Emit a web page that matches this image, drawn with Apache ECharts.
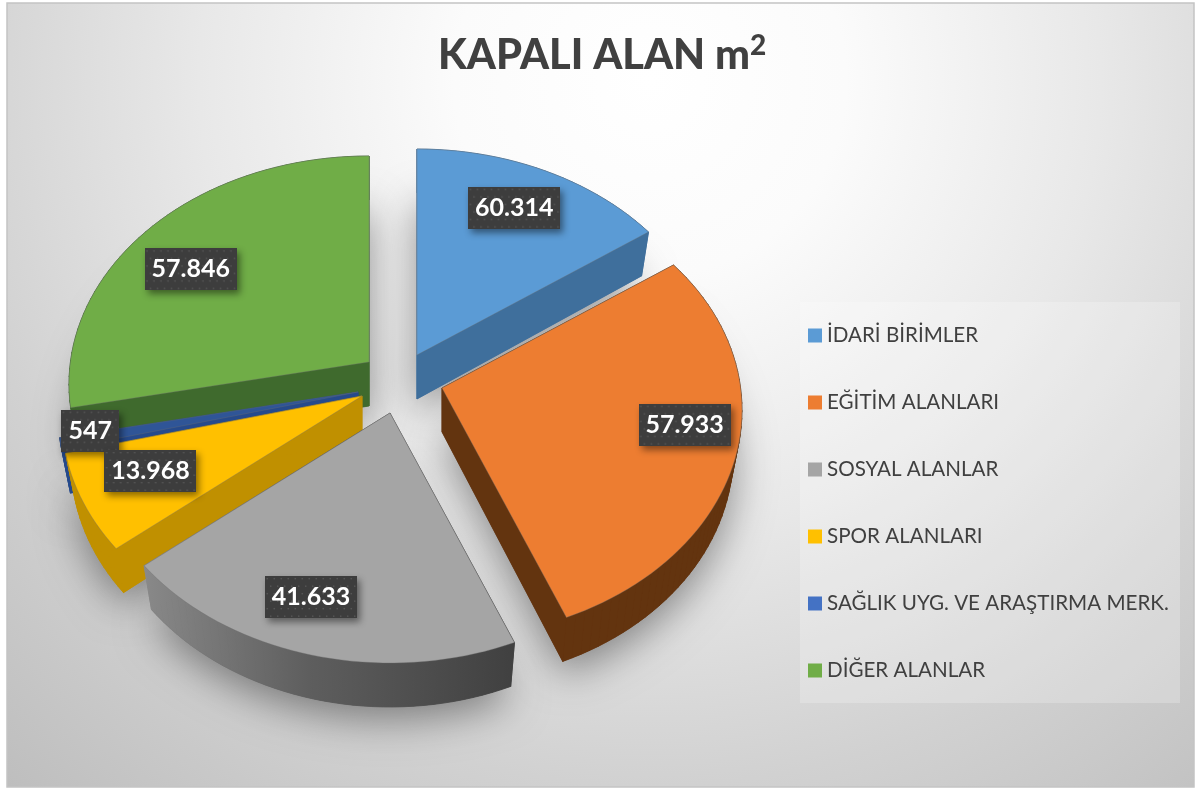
<!DOCTYPE html>
<html><head><meta charset="utf-8">
<script src="https://cdn.jsdelivr.net/npm/echarts@6/dist/echarts.min.js"></script>
<style>html,body{margin:0;padding:0;background:#fff}#c{width:1204px;height:789px}</style>
</head><body><div id="c"></div>
<script>
// ---- data ----
const categories = ['İDARİ BİRİMLER','EĞİTİM ALANLARI','SOSYAL ALANLAR','SPOR ALANLARI','SAĞLIK UYG. VE ARAŞTIRMA MERK.','DİĞER ALANLAR'];
const values = [60314,57933,41633,13968,547,57846];
const valueLabels = ['60.314','57.933','41.633','13.968','547','57.846'];
const titleMain = 'KAPALI ALAN m';
const titleSup = '2';

// ---- styling ----
const topColors  = ['#5b9bd5','#ed7d31','#a5a5a5','#ffc000','#2f5597','#70ad47'];
const legendColors = ['#5b9bd5','#ed7d31','#a5a5a5','#ffc000','#4472c4','#70ad47'];
const sideColors = ['#3f6f9c','#63340f','#555555','#c09000','#264a8c','#3f6a2d'];
const drawOrder = [5,0,4,3,2,1];

// ---- projection of the tilted pie (Excel 3-D view) ----
const rx = 300, ryBack = 206, ryFront = 250;
const cy0 = (ryFront - ryBack) / 2, ry = (ryFront + ryBack) / 2;
// pie angle -> angle on the drawn ellipse, the way the view foreshortens it
const viewKnots = [[0,0],[93.5,50.5],[183.3,155.5],[247.8,235],[269.45,261],[270.3,264],[360,360]];
// slice apex, as exploded
const apex = [[417,355],[442,388],[390,413],[362,396],[358,392],[369,362]];
const labelFrac = [[0.76,0.8],[0.83,0.5],[1,0.76],[0.76,0.7],[0.9,0.75],[0.8,0.71]];
const depth = 44, depthScale = 0.97;

const total = values.reduce((a,b)=>a+b,0);
function warp(t){
  for(let i=1;i<viewKnots.length;i++){
    const a=viewKnots[i-1],b=viewKnots[i];
    if(t<=b[0]) return a[1]+(t-a[0])/(b[0]-a[0])*(b[1]-a[1]);
  }
  return t;
}
function spoke(alpha){
  const r=alpha*Math.PI/180;
  return [rx*Math.sin(r), cy0-ry*Math.cos(r)];
}
const starts=[];let acc=0;
values.forEach(v=>{starts.push(acc);acc+=v/total*360;});

function patternCanvas(w,h){
  const c=document.createElement('canvas');c.width=w;c.height=h;
  const g=c.getContext('2d');
  g.fillStyle='#3d3d3d';g.fillRect(0,0,w,h);
  g.fillStyle='#5a5a5a';
  for(let y=2;y<h;y+=7.5)for(let x=(Math.round((y-2)/7.5)%2?5:1.5);x<w;x+=7){g.fillRect(x,y,1.4,1.4);}
  return c;
}

function renderSlice(i){
  return function(params,api){
    const a0=warp(starts[i]), a1=warp(starts[i]+values[i]/total*360);
    const o=apex[i];
    const pts=[[0,0]];
    const n=Math.max(2,Math.ceil((a1-a0)/2));
    for(let k=0;k<=n;k++) pts.push(spoke(a0+(a1-a0)*k/n));
    const top=pts.map(p=>[o[0]+p[0],o[1]+p[1]]);
    const bot=pts.map(p=>[o[0]+p[0]*depthScale,o[1]+p[1]+depth]);
    const children=[];
    const side=sideColors[i];
    let sideFill=side;
    if(i===2){
      sideFill={type:'linear',global:true,x:140,y:0,x2:515,y2:0,colorStops:[{offset:0,color:'#8a8a8a'},{offset:0.45,color:'#5e5e5e'},{offset:1,color:'#404040'}]};
    }
    // shadow cast on the floor
    children.push({type:'polygon',shape:{points:bot},z2:1,silent:true,
      style:{fill:side,shadowBlur:40,shadowColor:'rgba(0,0,0,0.42)',shadowOffsetX:0,shadowOffsetY:12}});
    for(let k=0;k<top.length;k++){
      const j=(k+1)%top.length;
      children.push({type:'polygon',shape:{points:[top[k],top[j],bot[j],bot[k]]},z2:2,silent:true,
        style:{fill:sideFill,stroke:sideFill,lineWidth:0.8}});
    }
    children.push({type:'polygon',shape:{points:top},z2:3,
      style:{fill:topColors[i],stroke:'rgba(110,110,110,0.5)',lineWidth:0.7}});
    return {type:'group',children};
  };
}
function renderLabel(i){
  const tile=patternCanvas(i===4?58:92,42);
  return function(params,api){
    const a0=warp(starts[i]), a1=warp(starts[i]+values[i]/total*360);
    const s=spoke((a0+a1)/2);
    const x=apex[i][0]+s[0]*labelFrac[i][0], y=apex[i][1]+s[1]*labelFrac[i][1];
    return {type:'text',x:x,y:y,z2:10,silent:true,
      style:{text:valueLabels[i],fill:'#fff',font:'bold 25px Lato, sans-serif',align:'center',verticalAlign:'middle',
        width:i===4?44:78,height:26,padding:[8,7,8,7],
        backgroundColor:{image:tile},
        shadowColor:'rgba(0,0,0,0.45)',shadowBlur:7,shadowOffsetX:3,shadowOffsetY:4}};
  };
}

const series=drawOrder.map(i=>({
  name:categories[i],type:'custom',coordinateSystem:'none',
  data:[values[i]],itemStyle:{color:legendColors[i]},z:2,
  renderItem:renderSlice(i)
}));
drawOrder.forEach(i=>series.push({
  type:'custom',coordinateSystem:'none',data:[values[i]],z:5,silent:true,renderItem:renderLabel(i)
}));

const chart=echarts.init(document.getElementById('c'),null,{renderer:'canvas'});
chart.setOption({
  animation:false,
  tooltip:{show:false},
  graphic:[
    {type:'rect',z:-10,shape:{x:7,y:3,width:1187,height:784},
     style:{stroke:'#c4c4c4',lineWidth:1.5,
      fill:{type:'radial',global:true,x:650,y:80,r:980,colorStops:[{offset:0,color:'#ffffff'},{offset:0.2,color:'#fbfbfb'},{offset:0.46,color:'#e8e8e8'},{offset:0.72,color:'#d1d1d1'},{offset:1,color:'#bcbcbc'}]}}},
    {type:'rect',z:-5,shape:{x:800,y:302,width:380,height:401},style:{fill:'rgba(255,255,255,0.22)'}}
  ],
  title:{text:'{a|'+titleMain+'}{b|'+titleSup+'}',left:433,top:27,
    textStyle:{rich:{
      a:{fontFamily:'Lato',fontWeight:900,fontSize:41.5,color:'#404040'},
      b:{fontFamily:'Lato',fontWeight:900,fontSize:28,color:'#404040',padding:[0,0,20,0]}
    }}},
  legend:{orient:'vertical',left:808,top:325,padding:0,
    itemGap:46,itemWidth:14,itemHeight:14,icon:'rect',
    selectedMode:false,data:categories,
    textStyle:{fontFamily:'Lato',fontSize:20.6,color:'#404040',padding:[0,0,0,0]}},
  series
});
</script></body></html>
